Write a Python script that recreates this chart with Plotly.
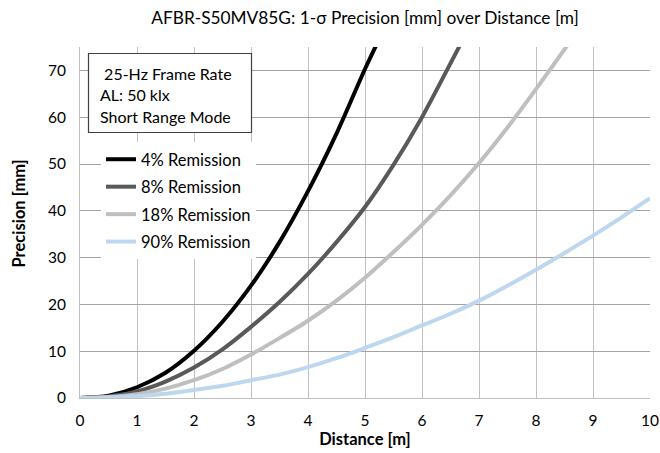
import plotly.graph_objects as go

# ---- data ----
dist_4 = [0, 0.5, 1, 1.5, 2, 2.5, 3, 3.5, 4, 4.5, 5, 5.3]
prec_4 = [0, 0.5, 2.3, 5.4, 10.1, 16.3, 24.0, 33.3, 44.2, 56.5, 70.3, 78.0]

dist_8 = [0, 0.5, 1, 1.5, 2, 2.5, 3, 3.5, 4, 4.5, 5, 5.5, 6, 6.5, 6.8]
prec_8 = [0, 0.3, 1.4, 3.5, 6.5, 10.4, 15.2, 20.5, 26.5, 33.3, 40.8, 49.8, 60.0, 71.5, 78.5]

dist_18 = [0, 0.5, 1, 1.5, 2, 2.5, 3, 3.5, 4, 4.5, 5, 5.5, 6, 6.5, 7, 7.5, 8, 8.5, 8.8]
prec_18 = [0, 0.2, 0.8, 2.0, 3.8, 6.2, 9.3, 12.8, 16.5, 20.8, 25.7, 31.2, 37.0, 43.3, 50.2, 57.8, 66.0, 74.5, 79.5]

dist_90 = [0, 0.5, 1, 1.5, 2, 2.5, 3, 3.5, 4, 4.5, 5, 5.5, 6, 6.5, 7, 7.5, 8, 8.5, 9, 9.5, 10]
prec_90 = [0, 0.1, 0.4, 0.9, 1.7, 2.6, 3.8, 5.0, 6.6, 8.5, 10.7, 13.0, 15.5, 18.0, 20.8, 24.0, 27.4, 31.0, 34.7, 38.6, 42.7]

series_names = ["4% Remission", "8% Remission", "18% Remission", "90% Remission"]
series_colors = ["#000000", "#595959", "#bfbfbf", "#bdd7ee"]

x_ticks = list(range(0, 11))
y_ticks = list(range(0, 80, 10))

info_lines = [" 25-Hz Frame Rate", "AL: 50 klx", "Short Range Mode"]
title_text = "AFBR-S50MV85G: 1-σ Precision [mm] over Distance [m]"
x_title = "Distance [m]"
y_title = "Precision [mm]"

FONT = "Lato"

fig = go.Figure()
for i, (xs, ys) in enumerate([(dist_4, prec_4), (dist_8, prec_8), (dist_18, prec_18), (dist_90, prec_90)]):
    fig.add_trace(go.Scatter(
        x=xs, y=ys, mode="lines", name=series_names[i],
        line=dict(color=series_colors[i], width=4, shape="spline", smoothing=0.8),
        legendgroup=f"g{i}",
    ))

L, R, T, B = 80, 10, 47, 55
W, H = 660, 453
pw, ph = W - L - R, H - T - B

def px_x(p):
    return (p - L) / pw

def px_y(p):
    return (H - B - p) / ph

fig.update_layout(
    template="none",
    width=W, height=H,
    margin=dict(l=L, r=R, t=T, b=B, pad=0, autoexpand=False),
    paper_bgcolor="white", plot_bgcolor="white",
    font=dict(family=FONT, size=15, color="#000000"),
    title=dict(text=title_text, xref="container", x=365 / W, xanchor="center",
               yref="container", y=1 - 18 / H, yanchor="middle",
               font=dict(family=FONT, size=17.3, color="#000000")),
    showlegend=True,
    legend=dict(
        x=px_x(101), y=px_y(142), xanchor="left", yanchor="top",
        bgcolor="white", borderwidth=0,
        font=dict(family=FONT, size=16.5, color="#000000"),
        traceorder="grouped", tracegroupgap=3,
        itemwidth=30,
    ),
    xaxis=dict(
        range=[0, 10], tickmode="array", tickvals=x_ticks, ticktext=[str(v) for v in x_ticks],
        showgrid=True, gridcolor="#c0c0c0", gridwidth=1,
        showline=True, linecolor="#bfbfbf", linewidth=1,
        zeroline=False, ticks="outside", ticklen=8, tickcolor="rgba(255,255,255,0)",
        tickfont=dict(family=FONT, size=15.5, color="#000000"),
        title=dict(text="<b>" + x_title + "</b>", font=dict(family=FONT, size=16.5, color="#000000"), standoff=4),
        automargin=False,
    ),
    yaxis=dict(
        range=[0, 75], tickmode="array", tickvals=y_ticks, ticktext=[str(v) for v in y_ticks],
        showgrid=True, gridcolor="#a3a3a3", gridwidth=1,
        showline=True, linecolor="#bfbfbf", linewidth=1,
        zeroline=False, ticks="outside", ticklen=10, tickcolor="rgba(255,255,255,0)",
        tickfont=dict(family=FONT, size=15.5, color="#000000"),
        automargin=False,
    ),
)

# y-axis title placed as an annotation (so it can sit where the reference has it)
fig.add_annotation(text="<b>" + y_title + "</b>", xref="paper", yref="paper",
                   x=px_x(18.5), y=px_y(214), textangle=-90, showarrow=False,
                   xanchor="center", yanchor="middle",
                   font=dict(family=FONT, size=16.5, color="#000000"))

# info box
fig.add_shape(type="rect", xref="paper", yref="paper",
              x0=px_x(88.5), x1=px_x(251.5), y0=px_y(132.5), y1=px_y(53.5),
              line=dict(color="#404040", width=1.2), fillcolor="white", layer="above")
for j, (line, yc) in enumerate(zip(info_lines, [73.5, 95, 116.5])):
    fig.add_annotation(text=line, xref="paper", yref="paper", x=px_x(98), y=px_y(yc),
                       xanchor="left", yanchor="middle", showarrow=False,
                       font=dict(family=FONT, size=16, color="#000000"))

fig.write_html("out.html",
               config={"displayModeBar": False},
               post_script="document.body.style.margin='0';document.body.style.overflow='hidden';")
